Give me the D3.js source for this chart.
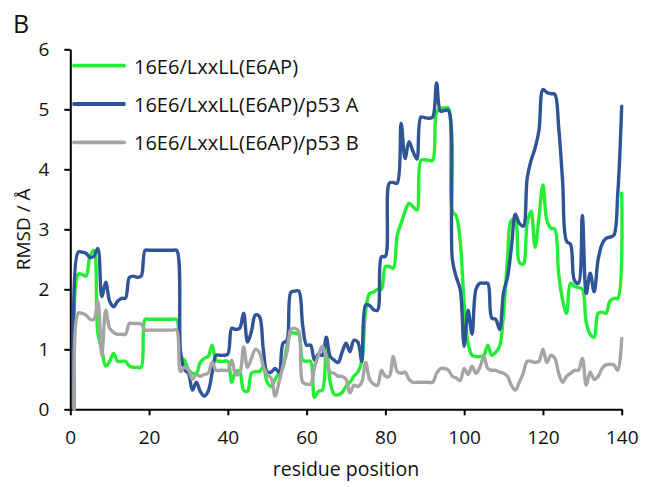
<!DOCTYPE html>
<html>
<head>
<meta charset="utf-8">
<script src="https://cdn.jsdelivr.net/npm/d3@7"></script>
<style>
  body { margin: 0; background: #fff; }
  svg text { font-family: "Open Sans", sans-serif; fill: #111; }
</style>
</head>
<body>
<svg class="rmsd"></svg>
<script>
// residue positions 1..140
var residues = d3.range(1, 141);

var seriesNames = ['16E6/LxxLL(E6AP)', '16E6/LxxLL(E6AP)/p53 A', '16E6/LxxLL(E6AP)/p53 B'];
var seriesColors = ['#22ee33', '#2f5597', '#a5a5a5'];

var rmsdFree = [
  0, 2.25, 2.25, 2.22, 2.55, 2.65, 1.27, 1.0, 0.72, 0.8,
  0.93, 0.8, 0.8, 0.8, 0.72, 0.7, 0.7, 0.7, 1.5, 1.5,
  1.5, 1.5, 1.5, 1.5, 1.5, 1.5, 1.5, 0.88, 0.82, 0.66,
  0.6, 0.6, 0.78, 0.85, 0.88, 1.07, 0.82, 0.8, 0.8, 0.8,
  0.45, 0.63, 0.63, 0.32, 0.3, 0.6, 0.63, 0.63, 0.7, 0.45,
  0.38, 0.5, 0.6, 0.7, 1.05, 1.27, 1.27, 1.25, 0.82, 0.8,
  0.8, 0.2, 0.3, 0.32, 1.04, 0.45, 0.25, 0.24, 0.28, 0.38,
  0.45, 0.55, 0.62, 0.8, 1.65, 1.93, 1.95, 2.0, 2.0, 2.38,
  2.38, 2.35, 2.9, 3.1, 3.3, 3.43, 3.38, 3.32, 4.15, 4.16,
  4.15, 4.15, 4.95, 5.02, 5.02, 5.02, 3.3, 3.22, 2.8, 1.75,
  1.1, 0.9, 0.88, 0.88, 0.9, 1.07, 0.9, 0.95, 1.05, 1.6,
  2.5, 3.15, 3.15, 2.45, 2.42, 3.1, 3.3, 2.7, 3.2, 3.74,
  3.15, 3.02, 3.0, 2.25, 1.82, 1.6, 2.1, 2.05, 2.03, 2.0,
  1.45, 1.25, 1.2, 1.6, 1.62, 1.6, 1.8, 1.85, 1.85, 3.6
];

var rmsdP53A = [
  0, 2.62, 2.62, 2.6, 2.53, 2.55, 2.68, 1.88, 2.12, 1.8,
  1.71, 1.8, 1.85, 1.85, 2.2, 2.22, 2.2, 2.22, 2.65, 2.65,
  2.65, 2.65, 2.65, 2.65, 2.65, 2.65, 2.65, 0.95, 0.66, 0.6,
  0.32, 0.45, 0.3, 0.22, 0.3, 0.6, 0.9, 0.9, 0.9, 0.92,
  1.35, 1.33, 1.35, 1.6, 1.12, 1.3, 1.57, 1.55, 1.0, 0.62,
  0.62, 0.68, 0.62, 1.1, 1.15, 1.95, 1.97, 1.97, 1.4, 1.07,
  1.07, 0.82, 0.92, 0.9, 1.2, 0.88, 0.82, 0.78, 0.95, 1.1,
  0.96, 1.15, 1.12, 0.8, 1.74, 1.73, 1.66, 1.65, 2.54, 2.55,
  3.77, 3.78, 3.77, 4.77, 4.18, 4.46, 4.3, 4.17, 4.87, 4.86,
  4.85, 4.87, 5.44, 4.97, 4.98, 4.98, 2.5, 2.2, 2.0, 1.05,
  1.65, 1.25, 2.0, 2.1, 2.1, 2.1, 1.52, 1.5, 1.33, 1.95,
  2.2, 2.7, 3.25, 3.1, 3.05, 3.85, 4.15, 4.35, 4.65, 5.33,
  5.28, 5.26, 5.25, 4.7, 3.8, 2.8, 2.75, 2.15, 2.1, 3.23,
  1.93, 2.27, 1.96, 2.49, 2.75, 2.85, 2.87, 2.9, 3.59, 5.05
];

var rmsdP53B = [
  0, 1.6, 1.6, 1.57, 1.5, 1.5, 1.8, 0.9, 1.65, 1.35,
  1.28, 1.25, 1.25, 1.25, 1.43, 1.43, 1.43, 1.42, 1.32, 1.32,
  1.32, 1.32, 1.32, 1.32, 1.32, 1.32, 1.32, 0.63, 0.7, 0.65,
  0.5, 0.58, 0.55, 0.58, 0.6, 0.78, 0.65, 0.65, 0.65, 0.65,
  0.82, 0.58, 0.6, 1.04, 0.7, 0.85, 1.0, 0.95, 0.72, 0.58,
  0.52, 0.22, 0.45, 0.72, 0.95, 1.33, 1.35, 1.3, 0.45, 0.42,
  0.42, 0.7, 0.9, 1.05, 0.85, 0.62, 0.6, 0.55, 0.55, 0.5,
  0.27, 0.4, 0.38, 0.45, 0.78, 0.5, 0.42, 0.4, 0.65, 0.55,
  0.55, 0.88, 0.63, 0.6, 0.62, 0.5, 0.45, 0.45, 0.45, 0.45,
  0.45, 0.45, 0.6, 0.68, 0.68, 0.65, 0.55, 0.52, 0.48, 0.68,
  0.58, 0.72, 0.6, 0.7, 0.88, 0.68, 0.65, 0.65, 0.62, 0.6,
  0.55, 0.4, 0.32, 0.45, 0.6, 0.8, 0.8, 0.78, 0.8, 1.0,
  0.78, 0.9, 0.85, 0.6, 0.45, 0.55, 0.6, 0.65, 0.65, 0.85,
  0.4, 0.62, 0.5, 0.55, 0.68, 0.74, 0.75, 0.74, 0.65, 1.18
];

var xTicks = [0, 20, 40, 60, 80, 100, 120, 140];
var yTicks = [0, 1, 2, 3, 4, 5, 6];

var svgWidth = 654;
var svgHeight = 487;

var svg = d3.select('.rmsd')
  .attr('width', svgWidth)
  .attr('height', svgHeight);

var xScale = d3.scaleLinear()
  .domain([0, 140])
  .range([70.3, 621.7]);

var yScale = d3.scaleLinear()
  .domain([0, 6])
  .range([409.3, 49.3]);

// axes
var x_axis = d3.axisBottom(xScale)
  .tickValues(xTicks)
  .tickFormat(d3.format('d'))
  .tickSize(6)
  .tickSizeOuter(0)
  .tickPadding(15);

var y_axis = d3.axisLeft(yScale)
  .tickValues(yTicks)
  .tickFormat(d3.format('d'))
  .tickSize(6)
  .tickSizeOuter(0)
  .tickPadding(15);

var gx = svg.append('g')
  .attr('transform', 'translate(0,' + yScale(0) + ')')
  .call(x_axis);

var gy = svg.append('g')
  .attr('transform', 'translate(' + xScale(0) + ',0)')
  .call(y_axis);

[gx, gy].forEach(function(g) {
  g.select('.domain').attr('stroke', '#000').attr('stroke-width', 2);
  g.selectAll('.tick line').attr('stroke', '#000').attr('stroke-width', 2);
  g.selectAll('.tick text')
    .style('font-family', '"Open Sans", sans-serif')
    .style('font-size', '19px')
    .attr('fill', '#111');
});

// lines, drawn in legend order so grey ends on top
var lineGen = d3.line()
  .x(function(d) { return xScale(d[0]); })
  .y(function(d) { return yScale(d[1]); })
  .curve(d3.curveCatmullRom.alpha(0.5));

var allSeries = [rmsdFree, rmsdP53A, rmsdP53B];

allSeries.forEach(function(values, i) {
  var pts = residues.map(function(r, j) { return [r, values[j]]; });
  svg.append('path')
    .attr('d', lineGen(pts))
    .attr('fill', 'none')
    .attr('stroke', seriesColors[i])
    .attr('stroke-width', 3.4)
    .attr('stroke-linejoin', 'round')
    .attr('stroke-linecap', 'round');
});

// legend
var legend = svg.selectAll('.legend')
  .data(seriesNames)
  .enter()
  .append('g')
  .attr('class', 'legend')
  .attr('transform', function(d, i) {
    return 'translate(74,' + (65.7 + i * 38.3) + ')';
  });

legend.append('line')
  .attr('x1', 0)
  .attr('x2', 50)
  .attr('stroke', function(d, i) { return seriesColors[i]; })
  .attr('stroke-width', 3.8)
  .attr('stroke-linecap', 'round');

legend.append('text')
  .attr('x', 60)
  .attr('y', 8)
  .style('font-size', '20px')
  .text(function(d) { return d; });

// titles
svg.append('text')
  .attr('x', xScale(70))
  .attr('y', 476)
  .attr('text-anchor', 'middle')
  .style('font-size', '19.5px')
  .text('residue position');

svg.append('text')
  .attr('transform', 'translate(30,' + yScale(3) + ') rotate(-90)')
  .attr('text-anchor', 'middle')
  .style('font-size', '19px')
  .text('RMSD / Å');

svg.append('text')
  .attr('x', 13)
  .attr('y', 33)
  .style('font-size', '25px')
  .text('B');
</script>
</body>
</html>
